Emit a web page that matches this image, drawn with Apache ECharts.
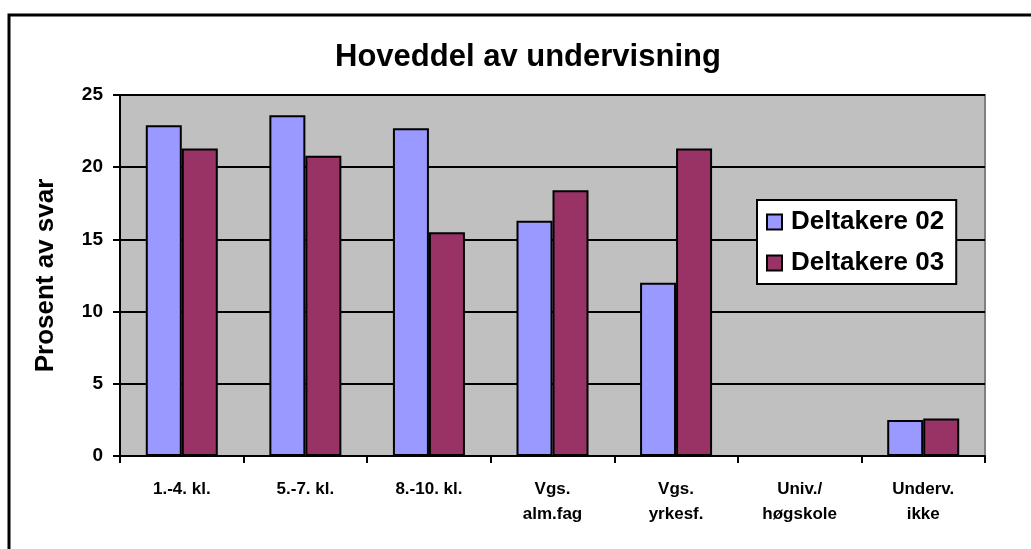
<!DOCTYPE html>
<html>
<head>
<meta charset="utf-8">
<script src="https://cdn.jsdelivr.net/npm/echarts@6/dist/echarts.min.js"></script>
<style>
  html, body { margin: 0; padding: 0; background: #fff; }
  #chart { width: 1031px; height: 549px; }
</style>
</head>
<body>
<div id="chart"></div>
<script>
var categories = ['1.-4. kl.', '5.-7. kl.', '8.-10. kl.', 'Vgs.\nalm.fag', 'Vgs.\nyrkesf.', 'Univ./\nhøgskole', 'Underv.\nikke'];
var deltakere02 = [22.9, 23.6, 22.7, 16.3, 12.0, 0, 2.5];
var deltakere03 = [21.3, 20.8, 15.5, 18.4, 21.3, 0, 2.6];
var yTicks = [0, 5, 10, 15, 20, 25];

var chart = echarts.init(document.getElementById('chart'));
var font = 'Liberation Sans, Arial, sans-serif';

chart.setOption({
    animation: false,
    title: {
        text: 'Hoveddel av undervisning',
        left: 330,
        top: 37,
        textStyle: { fontFamily: font, fontSize: 31, fontWeight: 'bold', color: '#000' }
    },
    graphic: [{
        type: 'polyline',
        shape: { points: [[9, 549], [9, 15], [1031, 15]] },
        style: { stroke: '#000', lineWidth: 3, fill: null }
    }],
    legend: {
        orient: 'vertical',
        left: 757,
        top: 200,
        padding: [9, 12, 8, 9],
        itemGap: 15,
        itemWidth: 15,
        itemHeight: 15,
        icon: 'rect',
        backgroundColor: '#fff',
        borderColor: '#000',
        borderWidth: 2,
        borderRadius: 0,
        textStyle: { fontFamily: font, fontSize: 26, fontWeight: 'bold', color: '#000', padding: [0, 0, 0, 4] },
        data: [
            { name: 'Deltakere 02', itemStyle: { color: '#9999FF', borderColor: '#000', borderWidth: 2 } },
            { name: 'Deltakere 03', itemStyle: { color: '#993366', borderColor: '#000', borderWidth: 2 } }
        ]
    },
    grid: {
        left: 120, right: 46, top: 95, bottom: 93,
        show: true,
        backgroundColor: '#C0C0C0',
        borderColor: '#808080',
        borderWidth: 2
    },
    xAxis: {
        type: 'category',
        data: categories,
        axisLine: { lineStyle: { color: '#000', width: 2 } },
        axisTick: { show: true, length: 7, lineStyle: { color: '#000', width: 2 } },
        axisLabel: {
            margin: 21,
            interval: 0,
            fontFamily: font, fontSize: 17, fontWeight: 'bold', color: '#000',
            lineHeight: 25
        }
    },
    yAxis: {
        type: 'value',
        min: yTicks[0],
        max: yTicks[yTicks.length - 1],
        interval: 5,
        name: 'Prosent av svar',
        nameLocation: 'middle',
        nameGap: 61,
        nameTextStyle: { fontFamily: font, fontSize: 26, fontWeight: 'bold', color: '#000' },
        axisLine: { show: true, lineStyle: { color: '#000', width: 2 } },
        axisTick: { show: true, length: 7, lineStyle: { color: '#000', width: 2 } },
        axisLabel: { margin: 17, fontFamily: font, fontSize: 19, fontWeight: 'bold', color: '#000' },
        splitLine: { lineStyle: { color: '#000', width: 2 } }
    },
    series: [{
        name: 'Deltakere 02',
        type: 'bar',
        barWidth: 36,
        barGap: '0%',
        itemStyle: { color: '#9999FF', borderColor: '#000', borderWidth: 2 },
        data: deltakere02
    }, {
        name: 'Deltakere 03',
        type: 'bar',
        barWidth: 36,
        barGap: '0%',
        itemStyle: { color: '#993366', borderColor: '#000', borderWidth: 2 },
        data: deltakere03
    }]
});
</script>
</body>
</html>
